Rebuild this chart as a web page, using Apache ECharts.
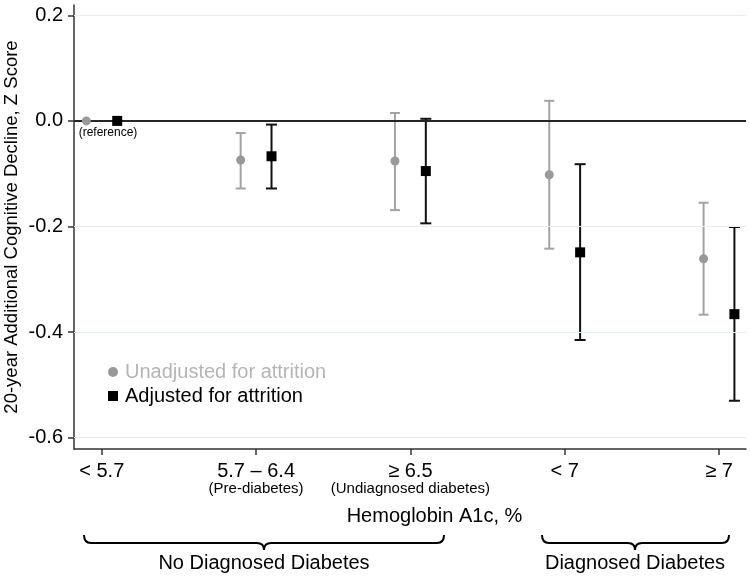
<!DOCTYPE html>
<html>
<head>
<meta charset="utf-8">
<script src="https://cdn.jsdelivr.net/npm/echarts@6/dist/echarts.min.js"></script>
<style>html,body{margin:0;padding:0;background:#fff}#c{width:750px;height:577px}</style>
</head>
<body>
<div id="c"></div>
<script>
const categories = ['< 5.7', '5.7 – 6.4', '≥ 6.5', '< 7', '≥ 7'];
const subLabels = ['', '(Pre-diabetes)', '(Undiagnosed diabetes)', '', ''];
const unadjEst  = [0, -0.074, -0.076, -0.102, -0.261];
const unadjLow  = [null, -0.128, -0.169, -0.242, -0.367];
const unadjHigh = [null, -0.023, 0.015, 0.038, -0.155];
const adjEst    = [0, -0.067, -0.095, -0.249, -0.366];
const adjLow    = [null, -0.128, -0.194, -0.415, -0.530];
const adjHigh   = [null, -0.007, 0.004, -0.082, -0.201];
const yTicks = [-0.6, -0.4, -0.2, 0, 0.2];
const gridTicks = [-0.6, -0.4, -0.2, 0.2];

const FONT = "'Liberation Sans', Arial, Helvetica, sans-serif";
const OFF = 0.1;
const GREY = '#999999', GREY_BAR = '#a3a3a3', BLACK = '#000000';

const xIdx = categories.map((_, i) => i);
function pts(est, off) { return est.map((v, i) => [i + off, v]); }
function bars(lo, hi, off) {
  const out = [];
  lo.forEach((v, i) => { if (v !== null && hi[i] !== null) out.push([i + off, v, hi[i]]); });
  return out;
}
function errRender(color, cap) {
  return function (params, api) {
    const x = api.value(0);
    const a = api.coord([x, api.value(1)]);
    const b = api.coord([x, api.value(2)]);
    const st = { stroke: color, lineWidth: 2 };
    return {
      type: 'group',
      children: [
        { type: 'line', shape: { x1: a[0], y1: a[1], x2: b[0], y2: b[1] }, style: st },
        { type: 'line', shape: { x1: a[0] - cap / 2, y1: a[1], x2: a[0] + cap / 2, y2: a[1] }, style: st },
        { type: 'line', shape: { x1: b[0] - cap / 2, y1: b[1], x2: b[0] + cap / 2, y2: b[1] }, style: st }
      ]
    };
  };
}
function brace(x1, xm, x2, yTop, yLine, yTip) {
  const st = { stroke: '#000', lineWidth: 2, fill: null };
  const r = 7;
  return [
    { type: 'bezierCurve', shape: { x1: x1, y1: yTop, x2: x1 + r, y2: yLine, cpx1: x1, cpy1: yLine }, style: st },
    { type: 'line', shape: { x1: x1 + r, y1: yLine, x2: xm - r, y2: yLine }, style: st },
    { type: 'bezierCurve', shape: { x1: xm - r, y1: yLine, x2: xm, y2: yTip, cpx1: xm, cpy1: yLine }, style: st },
    { type: 'bezierCurve', shape: { x1: xm, y1: yTip, x2: xm + r, y2: yLine, cpx1: xm, cpy1: yLine }, style: st },
    { type: 'line', shape: { x1: xm + r, y1: yLine, x2: x2 - r, y2: yLine }, style: st },
    { type: 'bezierCurve', shape: { x1: x2 - r, y1: yLine, x2: x2, y2: yTop, cpx1: x2, cpy1: yLine }, style: st }
  ];
}

const chart = echarts.init(document.getElementById('c'));
chart.setOption({
  animation: false,
  backgroundColor: '#fff',
  textStyle: { fontFamily: FONT },
  grid: { left: 74, right: 4, top: 5, bottom: 128, containLabel: false, outerBoundsMode: 'none' },
  xAxis: {
    type: 'value', min: -0.18, max: 4.175,
    axisLine: { show: true, onZero: false, lineStyle: { color: '#333', width: 1.5 } },
    axisTick: { show: true, length: 6, lineStyle: { color: '#333', width: 1.5 }, customValues: xIdx },
    splitLine: { show: false },
    axisLabel: {
      customValues: xIdx, margin: 12, hideOverlap: false,
      formatter: v => { const i = Math.round(v); return subLabels[i] ? '{a|' + categories[i] + '}\n{b|' + subLabels[i] + '}' : '{a|' + categories[i] + '}'; },
      rich: {
        a: { fontSize: 20, color: '#000', fontFamily: FONT, lineHeight: 20 },
        b: { fontSize: 15, color: '#000', fontFamily: FONT, lineHeight: 15 }
      }
    }
  },
  yAxis: {
    type: 'value', min: -0.6214, max: 0.2195,
    name: '20-year Additional Cognitive Decline, Z Score',
    nameLocation: 'middle', nameGap: 53, nameMoveOverlap: false,
    nameTextStyle: { fontSize: 18.5, color: '#000', fontFamily: FONT },
    axisLine: { show: true, onZero: false, lineStyle: { color: '#333', width: 1.5 } },
    axisTick: { show: true, length: 6, lineStyle: { color: '#333', width: 1.5 }, customValues: yTicks },
    splitLine: { show: false },
    axisLabel: { customValues: yTicks, margin: 11, fontSize: 20, color: '#000', fontFamily: FONT,
      formatter: v => v.toFixed(1) }
  },
  legend: {
    orient: 'vertical', left: 108, top: 360, padding: 0, itemGap: 0, itemWidth: 10, itemHeight: 10,
    textStyle: { fontSize: 20, fontFamily: FONT, lineHeight: 24, padding: [0, 0, 0, 2] },
    data: [
      { name: 'Unadjusted for attrition', icon: 'circle', textStyle: { color: '#b5b5b5' } },
      { name: 'Adjusted for attrition', icon: 'rect', textStyle: { color: '#000' } }
    ]
  },
  series: [
    {
      type: 'scatter', name: 'ref', silent: true, z: 1, data: [],
      markLine: {
        silent: true, symbol: 'none', label: { show: false }, animation: false,
        data: gridTicks.map(v => ({ yAxis: v, lineStyle: { color: '#e4eef0', width: 1, type: 'solid' } }))
          .concat([{ yAxis: 0, lineStyle: { color: '#262626', width: 2, type: 'solid' } }])
      }
    },
    { type: 'custom', name: 'Unadjusted for attrition', z: 3, itemStyle: { color: GREY },
      renderItem: errRender(GREY_BAR, 10), data: bars(unadjLow, unadjHigh, -OFF) },
    { type: 'custom', name: 'Adjusted for attrition', z: 3, itemStyle: { color: BLACK },
      renderItem: errRender('#111', 11), data: bars(adjLow, adjHigh, OFF) },
    { type: 'scatter', name: 'Unadjusted for attrition', z: 5, symbol: 'circle', symbolSize: 9,
      itemStyle: { color: GREY, opacity: 1 }, data: pts(unadjEst, -OFF) },
    { type: 'scatter', name: 'Adjusted for attrition', z: 5, symbol: 'rect', symbolSize: 10,
      itemStyle: { color: BLACK, opacity: 1 }, data: pts(adjEst, OFF) }
  ],
  graphic: [
    { type: 'text', x: 108, y: 133, style: { text: '(reference)', font: '12px ' + FONT, fill: '#000', align: 'center', verticalAlign: 'middle' } },
    { type: 'text', x: 434.5, y: 516, style: { text: 'Hemoglobin A1c, %', font: '20px ' + FONT, fill: '#000', align: 'center', verticalAlign: 'middle' } },
    { type: 'group', children: brace(84, 264, 444, 535, 543, 550) },
    { type: 'group', children: brace(542, 635, 729, 535, 543, 550) },
    { type: 'text', x: 264, y: 563, style: { text: 'No Diagnosed Diabetes', font: '20px ' + FONT, fill: '#000', align: 'center', verticalAlign: 'middle' } },
    { type: 'text', x: 635, y: 563, style: { text: 'Diagnosed Diabetes', font: '20px ' + FONT, fill: '#000', align: 'center', verticalAlign: 'middle' } }
  ]
});
</script>
</body>
</html>
